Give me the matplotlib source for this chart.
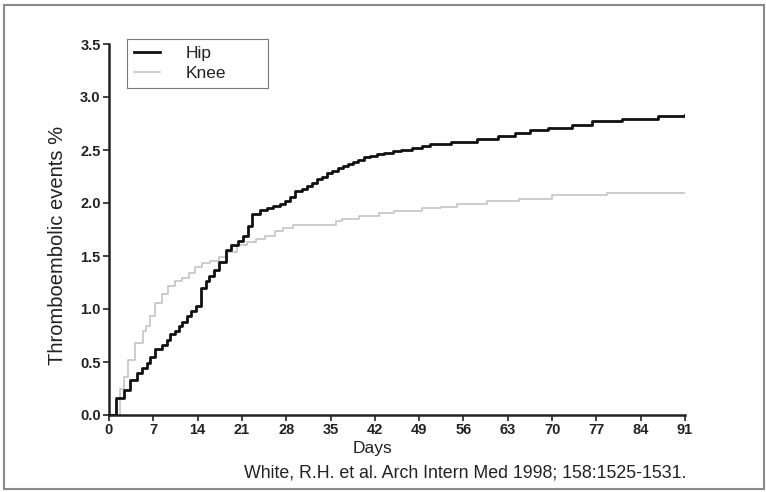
import matplotlib.pyplot as plt
from matplotlib.patches import Rectangle

plt.rcParams['font.family'] = ['Liberation Sans Narrow', 'Liberation Sans', 'DejaVu Sans']

# Cumulative thromboembolic events (%) by day
hip_days = [0, 1.1, 2.3, 3.3, 4.4, 5.2, 6.0, 6.5, 7.3, 8.4, 9.2, 9.7, 10.5, 11.1, 11.6,
            12.4, 12.9, 13.7, 14.5, 15.3, 15.8, 16.6, 17.4, 18.5, 19.3, 20.4, 21.2,
            21.9, 22.6, 23.8, 24.9, 25.9, 27.0, 27.8, 28.6, 29.4, 30.5, 31.3, 32.1,
            32.9, 33.7, 34.5, 35.3, 36.1, 36.9, 37.7, 38.6, 39.4, 40.3, 41.3, 42.3,
            43.5, 44.8, 46.2, 47.8, 49.5, 50.7, 54.1, 58.1, 61.5, 64.1, 66.5, 69.4,
            73.1, 76.3, 81.0, 86.8, 91]
hip_pct = [0, 0.16, 0.24, 0.33, 0.40, 0.44, 0.49, 0.55, 0.62, 0.66, 0.71, 0.76, 0.79,
           0.84, 0.88, 0.93, 0.98, 1.03, 1.20, 1.26, 1.31, 1.37, 1.44, 1.56, 1.60,
           1.64, 1.69, 1.78, 1.90, 1.93, 1.95, 1.97, 1.99, 2.02, 2.06, 2.11, 2.13,
           2.16, 2.19, 2.23, 2.25, 2.28, 2.30, 2.33, 2.35, 2.37, 2.39, 2.41, 2.43,
           2.44, 2.46, 2.47, 2.49, 2.50, 2.52, 2.54, 2.56, 2.58, 2.60, 2.63, 2.66,
           2.69, 2.71, 2.74, 2.77, 2.79, 2.82, 2.83]

knee_days = [0, 1.8, 2.3, 3.0, 4.1, 5.4, 5.8, 6.5, 7.3, 8.4, 9.4, 10.5, 11.5, 12.6,
             13.6, 14.7, 16.0, 17.3, 18.6, 20.2, 21.8, 23.3, 24.7, 26.2, 27.5, 29.1,
             35.8, 36.8, 39.5, 42.7, 45.0, 49.5, 52.4, 55.0, 59.7, 64.8, 70.0, 78.7, 91]
knee_pct = [0, 0.25, 0.36, 0.52, 0.68, 0.79, 0.84, 0.93, 1.06, 1.14, 1.22, 1.26, 1.29,
            1.34, 1.40, 1.43, 1.45, 1.49, 1.54, 1.60, 1.63, 1.66, 1.69, 1.74, 1.76,
            1.79, 1.83, 1.85, 1.88, 1.91, 1.92, 1.95, 1.96, 1.99, 2.02, 2.04, 2.08,
            2.09, 2.09]

x_ticks = list(range(0, 92, 7))
y_ticks = [0.0, 0.5, 1.0, 1.5, 2.0, 2.5, 3.0, 3.5]

fig = plt.figure(figsize=(7.66, 4.92), dpi=100)
ax = fig.add_axes([109 / 766, 1 - 415 / 492, 576 / 766, 371 / 492])

ax.step(knee_days, knee_pct, where='post', color='#c4c4c4', lw=1.2, label='Knee', zorder=2)
ax.step(hip_days, hip_pct, where='post', color='#111111', lw=2.0, label='Hip', zorder=3)

ax.set_xlim(0, 91)
ax.set_ylim(0, 3.5)
ax.set_xticks(x_ticks)
ax.set_yticks(y_ticks)
ax.set_yticklabels(['%.1f' % v for v in y_ticks])
for s in ['top', 'right']:
    ax.spines[s].set_visible(False)
for s in ['left', 'bottom']:
    ax.spines[s].set_linewidth(1.8)
    ax.spines[s].set_color('#222222')
ax.tick_params(direction='out', length=4, width=1.2, labelsize=10.5, pad=2, colors='#222222')
for lab in ax.get_xticklabels() + ax.get_yticklabels():
    lab.set_fontweight('bold')

# legend box spans a fixed width like the original
handles, labels = ax.get_legend_handles_labels()
leg = ax.legend(handles[::-1], labels[::-1], loc='upper left', mode='expand',
                bbox_to_anchor=(18 / 576, 1.0135, 141 / 576, 0.0),
                fontsize=12.5, frameon=True, fancybox=False, edgecolor='#555555',
                handlelength=1.5, handletextpad=1.5, borderpad=0.38, labelspacing=0.3,
                borderaxespad=0)
leg.get_frame().set_linewidth(0.8)
for t in leg.get_texts():
    t.set_color('#222222')

fig.text(58 / 766, 1 - 245 / 492, 'Thromboembolic events %', rotation=90,
         ha='center', va='center', fontsize=14.5, color='#222222')
fig.text(372 / 766, 1 - 449 / 492, 'Days', ha='center', va='center',
         fontsize=12.5, color='#222222')
fig.text(465 / 766, 1 - 473 / 492, 'White, R.H. et al. Arch Intern Med 1998; 158:1525-1531.',
         ha='center', va='center', fontsize=12.8, color='#222222')

fig.patches.append(Rectangle((4 / 766, 3 / 492), 760 / 766, 484 / 492, transform=fig.transFigure,
                             fill=False, edgecolor='#8a8a8a', lw=1.5))

fig.savefig('out.png', dpi=100)
